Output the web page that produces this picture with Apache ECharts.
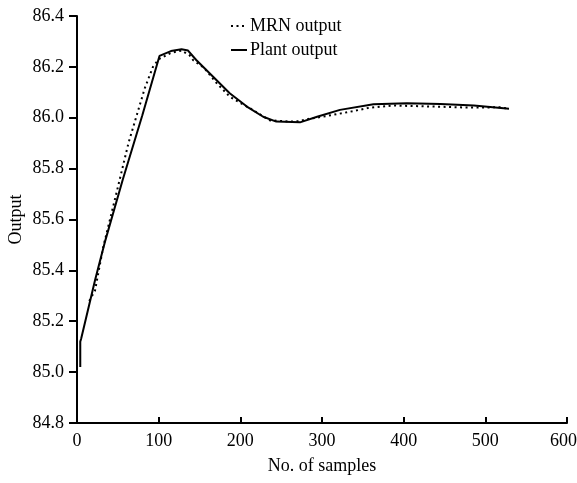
<!DOCTYPE html>
<html>
<head>
<meta charset="utf-8">
<script src="https://cdn.jsdelivr.net/npm/echarts@6/dist/echarts.min.js"></script>
<style>
  html, body { margin: 0; padding: 0; background: #fff; }
  #main { width: 577px; height: 483px; }
</style>
</head>
<body>
<div id="main"></div>
<script>
// samples (x) and outputs (y)
var mrnX = [15, 22, 32, 48, 63, 75, 83, 90, 93, 100, 115, 128, 138, 142, 156, 171, 187, 200, 212, 236, 260, 273, 281, 306, 335, 359, 388, 437, 478, 518, 529];
var mrnY = [85.28, 85.32, 85.49, 85.70, 85.90, 86.03, 86.116, 86.175, 86.20, 86.23, 86.255, 86.264, 86.245, 86.227, 86.195, 86.136, 86.083, 86.058, 86.037, 85.99, 85.985, 85.987, 85.994, 86.007, 86.024, 86.040, 86.048, 86.044, 86.040, 86.041, 86.035];
var plantX = [4, 4, 5, 22, 34, 56, 80, 101, 115, 128, 136, 146, 167, 187, 208, 228, 244, 273, 294, 322, 363, 404, 445, 486, 529];
var plantY = [85.02, 85.12, 85.13, 85.36, 85.51, 85.756, 86.01, 86.243, 86.262, 86.269, 86.264, 86.227, 86.16, 86.096, 86.044, 86.004, 85.985, 85.982, 86.004, 86.031, 86.053, 86.057, 86.054, 86.048, 86.035];
var seriesNames = ['MRN output', 'Plant output'];

function pairs(xs, ys) {
  var out = [];
  for (var i = 0; i < xs.length; i++) out.push([xs[i], ys[i]]);
  return out;
}

var font = "'Liberation Serif', 'Times New Roman', serif";
var chart = echarts.init(document.getElementById('main'));
var option = {
  animation: false,
  backgroundColor: '#fff',
  textStyle: { fontFamily: font, color: '#000' },
  grid: { left: 77, right: 10, top: 16, bottom: 60, containLabel: false, outerBoundsMode: 'none' },
  legend: {
    orient: 'vertical',
    left: 225,
    top: 12,
    itemWidth: 16,
    itemHeight: 10,
    itemGap: 6,
    data: seriesNames,
    itemStyle: { opacity: 0 },
    textStyle: { fontFamily: font, fontSize: 18, color: '#000', padding: [0, 0, 0, -2] }
  },
  xAxis: {
    type: 'value',
    min: 0, max: 600, interval: 100,
    name: 'No. of samples',
    nameLocation: 'middle',
    nameGap: 34,
    nameMoveOverlap: false,
    nameTextStyle: { fontFamily: font, fontSize: 18, color: '#000' },
    splitLine: { show: false },
    axisLine: { onZero: false, lineStyle: { color: '#000', width: 2 } },
    axisTick: { inside: true, length: 6, lineStyle: { color: '#000', width: 2 } },
    axisLabel: {
      margin: 9, fontFamily: font, fontSize: 18, color: '#000',
      // last label sits a little left so it stays inside the window
      formatter: function (v) { return v === 600 ? '{r|600}' : String(v); },
      rich: { r: { fontFamily: font, fontSize: 18, color: '#000', padding: [0, 7, 0, 0] } }
    }
  },
  yAxis: {
    type: 'value',
    min: 84.8, max: 86.4, interval: 0.2,
    name: 'Output',
    nameLocation: 'middle',
    nameGap: 52,
    nameMoveOverlap: false,
    nameTextStyle: { fontFamily: font, fontSize: 18, color: '#000' },
    splitLine: { show: false },
    axisLine: { show: true, lineStyle: { color: '#000', width: 2 } },
    axisTick: { show: true, length: 8, lineStyle: { color: '#000', width: 2 } },
    axisLabel: {
      margin: 13, fontFamily: font, fontSize: 18, color: '#000',
      formatter: function (v) { return v.toFixed(1); }
    }
  },
  series: [
    {
      name: seriesNames[0],
      type: 'line',
      symbol: 'none',
      data: pairs(mrnX, mrnY),
      itemStyle: { color: '#000' },
      lineStyle: { color: '#000', width: 2, type: [2, 3.5] }
    },
    {
      name: seriesNames[1],
      type: 'line',
      symbol: 'none',
      data: pairs(plantX, plantY),
      itemStyle: { color: '#000' },
      lineStyle: { color: '#000', width: 2 }
    }
  ]
};
chart.setOption(option);
</script>
</body>
</html>
